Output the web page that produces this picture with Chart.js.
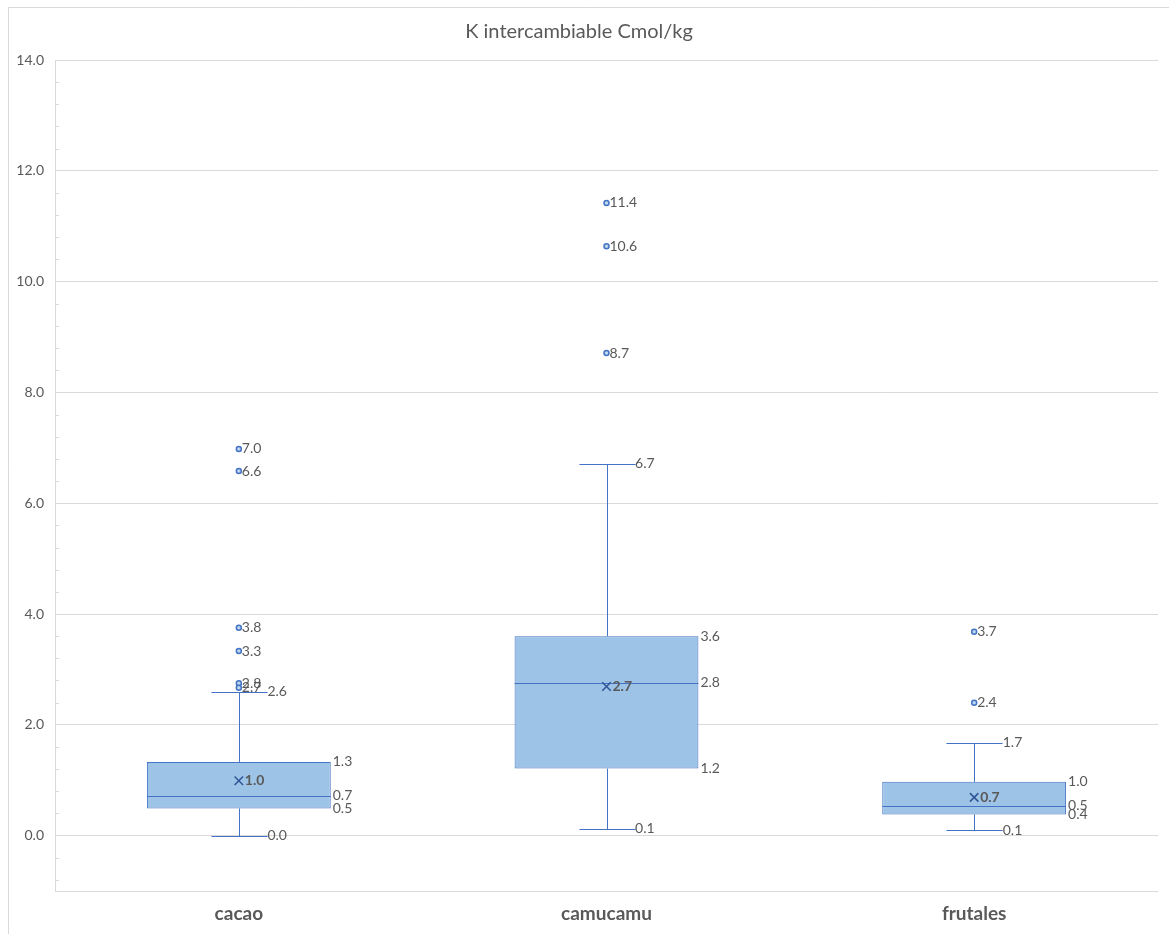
<!DOCTYPE html>
<html>
<head>
<meta charset="utf-8">
<script src="https://cdn.jsdelivr.net/npm/chart.js@4/dist/chart.umd.min.js"></script>
<style>
  html, body { margin: 0; padding: 0; background: #ffffff; }
  #wrap { position: relative; width: 1169px; height: 934px; }
</style>
</head>
<body>
<div id="wrap"><canvas id="c" width="1169" height="934"></canvas></div>
<script>
// ---- Data ----
const categories = ['cacao', 'camucamu', 'frutales'];
const minValues    = [0.0, 0.12, 0.10];
const q1Values     = [0.49, 1.21, 0.38];
const medianValues = [0.72, 2.76, 0.54];
const q3Values     = [1.33, 3.60, 0.97];
const maxValues    = [2.60, 6.71, 1.68];
const meanValues   = [0.99, 2.69, 0.69];
const outliersCacao    = [6.98, 6.58, 3.75, 3.33, 2.75, 2.67];
const outliersCamucamu = [11.42, 10.64, 8.71];
const outliersFrutales = [3.68, 2.40];
const yTickValues = [-1, 0, 2, 4, 6, 8, 10, 12, 14];
const chartTitle = 'K intercambiable Cmol/kg';

const outlierLists = [outliersCacao, outliersCamucamu, outliersFrutales];
const outlierPoints = [];
outlierLists.forEach((list, i) => list.forEach(v => outlierPoints.push({ x: categories[i], y: v })));

const BLUE = '#4472c4';
const FILL = '#9dc3e6';
const TEXT = '#595959';
const GRID = '#d9d9d9';
const FONT = 'Lato, "Open Sans", sans-serif';

const boxPlugin = {
  id: 'boxExtras',
  beforeDraw(chart) {
    const ctx = chart.ctx;
    ctx.save();
    ctx.strokeStyle = GRID;
    ctx.lineWidth = 1;
    ctx.beginPath();
    ctx.moveTo(8, 7.5); ctx.lineTo(chart.width, 7.5);
    ctx.moveTo(8.5, 7); ctx.lineTo(8.5, chart.height);
    ctx.stroke();
    ctx.restore();
  },
  beforeDatasetsDraw(chart) {
    const ctx = chart.ctx, xs = chart.scales.x, ys = chart.scales.y;
    const ca = chart.chartArea;
    ctx.save();
    ctx.strokeStyle = GRID;
    ctx.lineWidth = 1;
    ctx.beginPath();
    for (let k = -2; k <= 35; k++) {
      if (k % 5 === 0) continue;
      const v = k * 0.4;
      if (v < ys.min || v > ys.max) continue;
      const py = Math.round(ys.getPixelForValue(v)) + 0.5;
      ctx.moveTo(ca.left, py); ctx.lineTo(ca.left + 4, py);
    }
    ctx.stroke();
    ctx.strokeStyle = BLUE;
    ctx.lineWidth = 1;
    const catW = xs.width / categories.length;
    const capHalf = catW * 0.5 * 0.3 / 2 + 0.5;
    categories.forEach((c, i) => {
      const cx = Math.round(xs.getPixelForValue(i)) + 0.5;
      const yMin = Math.round(ys.getPixelForValue(minValues[i])) + 0.5;
      const yMax = Math.round(ys.getPixelForValue(maxValues[i])) + 0.5;
      const yQ1 = ys.getPixelForValue(q1Values[i]);
      const yQ3 = ys.getPixelForValue(q3Values[i]);
      ctx.beginPath();
      ctx.moveTo(cx, yMin); ctx.lineTo(cx, yQ1);
      ctx.moveTo(cx, yQ3); ctx.lineTo(cx, yMax);
      ctx.moveTo(cx - capHalf, yMin); ctx.lineTo(cx + capHalf, yMin);
      ctx.moveTo(cx - capHalf, yMax); ctx.lineTo(cx + capHalf, yMax);
      ctx.stroke();
    });
    ctx.restore();
  },
  afterDatasetDraw(chart, args) {
    if (chart.data.datasets[args.index].label !== 'box') return;
    const ctx = chart.ctx, ys = chart.scales.y;
    ctx.save();
    ctx.strokeStyle = BLUE;
    ctx.lineWidth = 1;
    args.meta.data.forEach((bar, i) => {
      const p = bar.getProps(['x', 'width'], true);
      const my = Math.round(ys.getPixelForValue(medianValues[i])) + 0.5;
      ctx.beginPath();
      ctx.moveTo(p.x - p.width / 2, my); ctx.lineTo(p.x + p.width / 2, my);
      ctx.stroke();
    });
    ctx.restore();
  },
  afterDatasetsDraw(chart) {
    const ctx = chart.ctx, xs = chart.scales.x, ys = chart.scales.y;
    const catW = xs.width / categories.length;
    const boxHalf = catW * 0.5 / 2;
    const capHalf = catW * 0.5 * 0.3 / 2;
    ctx.save();
    ctx.fillStyle = TEXT;
    ctx.textAlign = 'left';
    ctx.textBaseline = 'middle';
    const normal = '14px ' + FONT;
    const bold = 'bold 14px ' + FONT;
    categories.forEach((c, i) => {
      const cx = xs.getPixelForValue(i);
      ctx.font = normal;
      [q1Values[i], medianValues[i], q3Values[i]].forEach(v => {
        ctx.fillText(v.toFixed(1), cx + boxHalf + 2, ys.getPixelForValue(v));
      });
      [minValues[i], maxValues[i]].forEach(v => {
        ctx.fillText(v.toFixed(1), cx + capHalf + 1, ys.getPixelForValue(v));
      });
      outlierLists[i].forEach(v => {
        ctx.fillText(v.toFixed(1), cx + 3, ys.getPixelForValue(v));
      });
      ctx.font = bold;
      ctx.fillText(meanValues[i].toFixed(1), cx + 6, ys.getPixelForValue(meanValues[i]));
    });
    ctx.restore();
  }
};

new Chart(document.getElementById('c'), {
  type: 'bar',
  data: {
    labels: categories,
    datasets: [
      {
        label: 'box',
        type: 'bar',
        data: q1Values.map((q, i) => [q, q3Values[i]]),
        backgroundColor: FILL,
        borderColor: BLUE,
        borderWidth: 1,
        borderSkipped: false,
        barPercentage: 0.5,
        categoryPercentage: 1.0,
        order: 3
      },
      {
        label: 'outliers',
        type: 'line',
        data: outlierPoints,
        showLine: false,
        pointStyle: 'circle',
        pointRadius: 2.5,
        pointBorderWidth: 1.5,
        pointBackgroundColor: '#bdd7ee',
        pointBorderColor: BLUE,
        order: 2
      },
      {
        label: 'mean',
        type: 'line',
        data: meanValues,
        showLine: false,
        pointStyle: 'crossRot',
        pointRadius: 6,
        pointBorderWidth: 1.5,
        pointBorderColor: '#2f5597',
        order: 1
      }
    ]
  },
  options: {
    responsive: false,
    animation: false,
    events: [],
    layout: { padding: { top: 20, left: 0, right: 11, bottom: 0 } },
    plugins: {
      legend: { display: false },
      tooltip: { enabled: false },
      title: {
        display: true,
        text: chartTitle,
        color: TEXT,
        font: { family: FONT, size: 20, weight: 'normal' },
        padding: { top: 0, bottom: 16 }
      }
    },
    scales: {
      x: {
        type: 'category',
        offset: true,
        afterFit(s) { s.height = 43; },
        grid: { display: false, drawTicks: false },
        border: { display: false },
        ticks: {
          color: TEXT,
          padding: 11,
          font: { family: FONT, size: 19, weight: 'bold' }
        }
      },
      y: {
        min: -1,
        max: 14,
        afterFit(s) { s.width = 55; },
        afterBuildTicks(s) { s.ticks = yTickValues.map(v => ({ value: v })); },
        grid: { color: GRID, drawTicks: false, lineWidth: 1 },
        border: { display: true, color: GRID },
        ticks: {
          color: TEXT,
          padding: 11,
          font: { family: FONT, size: 14 },
          callback: v => (v < 0 ? '' : Number(v).toFixed(1))
        }
      }
    }
  },
  plugins: [boxPlugin]
});
</script>
</body>
</html>
